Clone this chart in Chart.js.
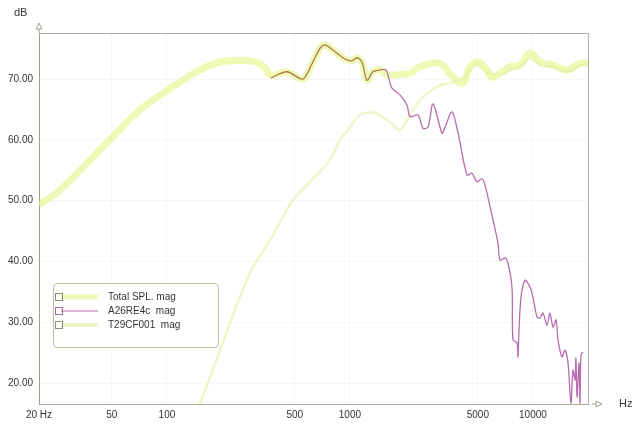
<!DOCTYPE html>
<html>
<head>
<meta charset="utf-8">
<script src="https://cdn.jsdelivr.net/npm/chart.js@4/dist/chart.umd.min.js"></script>
<style>
	body { margin: 0; background: #fff; }
	canvas { display: block; }
</style>
</head>
<body>
<canvas id="spl-chart" width="640" height="425"></canvas>
<script>
const xTicks = [20, 50, 100, 500, 1000, 5000, 10000];
const xTickLabels = ["20 Hz", "50", "100", "500", "1000", "5000", "10000"];
const yTicks = [20, 30, 40, 50, 60, 70];

const seriesNames = ["Total SPL. mag", "A26RE4c  mag", "T29CF001  mag"];

const totalFreq = [20, 26, 43, 71, 111, 152, 195, 251, 306, 340, 370, 453, 554, 622, 688, 731, 829, 940, 1026, 1094, 1164, 1240, 1336, 1460, 1574, 1878, 2130, 2416, 3108, 3658, 4148, 4532, 5012, 5616, 5972, 6780, 7500, 8500, 9640, 10940, 12880, 15360, 18070, 20000];
const totalDb = [49.3, 51.7, 58.3, 64.9, 69.0, 71.5, 72.8, 73.1, 72.8, 72.0, 70.6, 71.2, 70.0, 72.6, 75.1, 75.6, 74.5, 73.3, 73.0, 73.5, 72.8, 69.8, 71.2, 71.5, 70.7, 70.7, 71.0, 72.0, 72.6, 70.3, 69.3, 72.0, 72.8, 71.5, 70.3, 71.2, 72.0, 72.3, 74.3, 72.8, 72.3, 71.5, 72.6, 72.6];

const wooferFreq = [370, 453, 554, 622, 688, 731, 829, 940, 1026, 1094, 1164, 1240, 1336, 1460, 1574, 1698, 1878, 2052, 2130, 2356, 2508, 2672, 2846, 3186, 3310, 3614, 3900, 4366, 4648, 4946, 5270, 5470, 5972, 6442, 6608, 7034, 7310, 7690, 7780, 8186, 8280, 8396, 8610, 9058, 9640, 10006, 10520, 10940, 11350, 11940, 12390, 12880, 13370, 13710, 14420, 14960, 15550, 16140, 16560, 16980, 17180, 17420, 17870, 18070, 18320, 18790];
const wooferDb = [70.2, 71.2, 70.0, 72.6, 75.1, 75.6, 74.5, 73.3, 73.0, 73.5, 72.8, 69.8, 71.2, 71.5, 71.5, 68.5, 67.4, 65.7, 63.8, 64.1, 61.9, 62.1, 65.9, 61.1, 62.1, 64.6, 61.1, 54.2, 54.5, 53.1, 53.6, 52.6, 47.6, 43.0, 40.2, 40.6, 39.7, 35.6, 27.1, 26.6, 24.3, 28.7, 34.1, 36.9, 35.8, 34.1, 30.9, 30.7, 31.5, 29.5, 31.5, 29.2, 30.4, 27.1, 24.3, 25.4, 23.3, 16.7, 22.1, 20.5, 24.1, 17.7, 23.3, 16.7, 24.6, 25.1];

const tweeterFreq = [140, 195, 284, 366, 431, 488, 605, 778, 883, 1002, 1136, 1370, 1656, 1878, 2130, 2416, 2992, 3658, 4256, 4532, 5012, 5616, 6780, 7500, 8500, 9640, 10940, 12880, 15360, 18070, 20000];
const tweeterDb = [13.7, 25.4, 38.1, 43.5, 47.3, 50.1, 53.1, 56.7, 60.0, 62.1, 64.1, 64.4, 62.9, 61.6, 64.1, 66.5, 68.7, 69.5, 70.3, 71.5, 72.3, 71.0, 70.8, 71.5, 72.0, 73.5, 72.3, 72.0, 71.2, 72.2, 72.3];

const FONT = "'Liberation Sans', Arial, sans-serif";
const TOTAL_COLOR = "rgba(226, 242, 120, 0.55)";
const WOOFER_COLOR = "#b86caf";
const WOOFER_OVERLAP = "#ad7a52";
const TWEETER_COLOR = "rgba(230, 238, 165, 0.6)";

function toPoints(freqs, values) {
	return freqs.map((f, i) => ({ x: f, y: values[i] }));
}

const decorations = {
	id: "decorations",
	afterDraw(chart) {
		const { ctx, chartArea } = chart;
		const { left, right, top, bottom } = chartArea;
		ctx.save();

		// top and right frame
		ctx.strokeStyle = "#b0b0a8";
		ctx.lineWidth = 1;
		ctx.beginPath();
		ctx.moveTo(left, top + 0.5);
		ctx.lineTo(right + 0.5, top + 0.5);
		ctx.lineTo(right + 0.5, bottom);
		ctx.stroke();

		// axis arrows
		ctx.strokeStyle = "#a0a088";
		ctx.beginPath();
		ctx.moveTo(left - 3, top - 4);
		ctx.lineTo(left, top - 10);
		ctx.lineTo(left + 3, top - 4);
		ctx.closePath();
		ctx.moveTo(left, top - 4);
		ctx.lineTo(left, top);
		ctx.stroke();
		ctx.beginPath();
		ctx.moveTo(right + 4, bottom);
		ctx.lineTo(right + 8, bottom);
		ctx.moveTo(right + 8, bottom - 3);
		ctx.lineTo(right + 14, bottom);
		ctx.lineTo(right + 8, bottom + 3);
		ctx.closePath();
		ctx.stroke();

		// unit labels
		ctx.fillStyle = "#333";
		ctx.font = "11px " + FONT;
		ctx.textBaseline = "middle";
		ctx.textAlign = "left";
		ctx.fillText("dB", 14, 13);
		ctx.fillText("Hz", 619, bottom);

		// legend
		const box = { x: 53, y: 283, w: 165, h: 64 };
		ctx.fillStyle = "#fff";
		ctx.strokeStyle = "#bcbc98";
		ctx.beginPath();
		ctx.roundRect(box.x + 0.5, box.y + 0.5, box.w, box.h, 4);
		ctx.fill();
		ctx.stroke();

		const rows = [297, 311, 325];
		chart.data.datasets.forEach((ds, i) => {
			const y = rows[i];
			ctx.strokeStyle = ds.legendLine;
			ctx.lineWidth = ds.legendWidth;
			ctx.beginPath();
			ctx.moveTo(61, y);
			ctx.lineTo(98, y);
			ctx.stroke();
			ctx.lineWidth = 1;
			ctx.strokeStyle = i === 1 ? "#9a6aa0" : "#8f8a80";
			ctx.strokeRect(55.5, y - 3.5, 7, 7);
			ctx.fillStyle = "#333";
			ctx.font = "10px " + FONT;
			ctx.fillText(ds.label, 108, y);
		});
		ctx.restore();
	},
};

new Chart(document.getElementById("spl-chart"), {
	type: "line",
	data: {
		datasets: [
			{
				label: seriesNames[0],
				data: toPoints(totalFreq, totalDb),
				borderColor: TOTAL_COLOR,
				borderWidth: 7,
				tension: 0.35,
				order: 2,
				legendLine: TOTAL_COLOR,
				legendWidth: 5,
			},
			{
				label: seriesNames[1],
				data: toPoints(wooferFreq, wooferDb),
				borderColor: WOOFER_COLOR,
				borderWidth: 1.3,
				tension: 0.3,
				order: 0,
				segment: {
					borderColor: (c) => (c.p0.parsed.x < 1560 ? WOOFER_OVERLAP : WOOFER_COLOR),
				},
				legendLine: WOOFER_COLOR,
				legendWidth: 1,
			},
			{
				label: seriesNames[2],
				data: toPoints(tweeterFreq, tweeterDb),
				borderColor: TWEETER_COLOR,
				borderWidth: 2.5,
				tension: 0.35,
				order: 1,
				legendLine: TWEETER_COLOR,
				legendWidth: 4,
			},
		],
	},
	options: {
		responsive: false,
		animation: false,
		events: [],
		elements: { point: { radius: 0 } },
		layout: { padding: { top: 33, right: 52, left: 0, bottom: 0 } },
		plugins: {
			legend: { display: false },
			tooltip: { enabled: false },
		},
		scales: {
			x: {
				type: "logarithmic",
				min: 20,
				max: 20000,
				afterBuildTicks: (scale) => {
					scale.ticks = xTicks.map((v) => ({ value: v }));
				},
				afterFit: (scale) => {
					scale.height = 21;
				},
				ticks: {
					autoSkip: false,
					maxRotation: 0,
					padding: 5,
					color: "#333",
					font: { family: FONT, size: 10 },
					callback: (v) => xTickLabels[xTicks.indexOf(v)],
				},
				grid: { color: "rgba(0,0,0,0.03)", drawTicks: false },
				border: { color: "#a8a894" },
			},
			y: {
				min: 16.55,
				max: 77.57,
				afterBuildTicks: (scale) => {
					scale.ticks = yTicks.map((v) => ({ value: v }));
				},
				afterFit: (scale) => {
					scale.width = 39;
				},
				ticks: {
					padding: 6,
					color: "#333",
					font: { family: FONT, size: 10 },
					callback: (v) => Number(v).toFixed(2),
				},
				grid: { color: "rgba(0,0,0,0.03)", drawTicks: false },
				border: { color: "#a0a080" },
			},
		},
	},
	plugins: [decorations],
});
</script>
</body>
</html>
